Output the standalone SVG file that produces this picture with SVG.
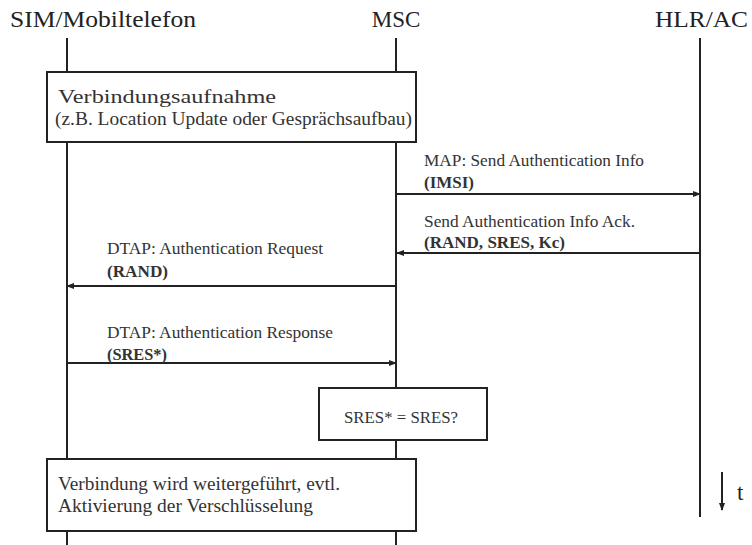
<svg xmlns="http://www.w3.org/2000/svg" width="752" height="545" viewBox="0 0 752 545">
<defs>
<style>
.hdr{font-family:"Liberation Serif","Times New Roman",serif;font-size:23px;fill:#222}
.lbl{font-family:"Liberation Serif","Times New Roman",serif;font-size:16px;fill:#333}
.b{font-weight:bold}
.box{font-family:"Liberation Serif","Times New Roman",serif;font-size:18px;fill:#333}
.life{stroke:#222;stroke-width:2;fill:none}
.msg{stroke:#222;stroke-width:2;fill:none}
.rect{fill:#fff;stroke:#222;stroke-width:2}
</style>
<marker id="ah" markerWidth="8" markerHeight="6" refX="7" refY="3" orient="auto" markerUnits="userSpaceOnUse">
<path d="M0,0 L8,3 L0,6 Z" fill="#222"/>
</marker>
</defs>
<rect width="752" height="545" fill="#fff"/>
<g id="sim">
<text class="hdr" x="10" y="27" textLength="186" lengthAdjust="spacingAndGlyphs">SIM/Mobiltelefon</text>
<line class="life" x1="67" y1="38" x2="67" y2="545"/>
</g>
<g id="msc">
<text class="hdr" x="396" y="27" text-anchor="middle">MSC</text>
<line class="life" x1="396" y1="38" x2="396" y2="545"/>
</g>
<g id="hlr">
<text class="hdr" x="655" y="27" textLength="93" lengthAdjust="spacingAndGlyphs">HLR/AC</text>
<line class="life" x1="700" y1="38" x2="700" y2="517"/>
</g>
<g id="connectors">
<line class="msg" x1="397" y1="194" x2="700" y2="194" marker-end="url(#ah)"/>
<line class="msg" x1="700" y1="253" x2="397" y2="253" marker-end="url(#ah)"/>
<line class="msg" x1="396" y1="286" x2="67" y2="286" marker-end="url(#ah)"/>
<line class="msg" x1="67" y1="363" x2="396" y2="363" marker-end="url(#ah)"/>
<text class="lbl" x="424" y="166" textLength="220" lengthAdjust="spacingAndGlyphs">MAP: Send Authentication Info</text>
<text class="lbl b" x="424" y="188" textLength="50" lengthAdjust="spacingAndGlyphs">(IMSI)</text>
<text class="lbl" x="424" y="227" textLength="211" lengthAdjust="spacingAndGlyphs">Send Authentication Info Ack.</text>
<text class="lbl b" x="424" y="248" textLength="141" lengthAdjust="spacingAndGlyphs">(RAND, SRES, Kc)</text>
<text class="lbl" x="107" y="254" textLength="216" lengthAdjust="spacingAndGlyphs">DTAP: Authentication Request</text>
<text class="lbl b" x="107" y="277" textLength="61" lengthAdjust="spacingAndGlyphs">(RAND)</text>
<text class="lbl" x="107" y="338" textLength="226" lengthAdjust="spacingAndGlyphs">DTAP: Authentication Response</text>
<text class="lbl b" x="107" y="360" textLength="60" lengthAdjust="spacingAndGlyphs">(SRES*)</text>
</g>
<g id="setup">
<rect class="rect" x="47" y="72" width="369" height="70"/>
<text class="box" x="58" y="103" textLength="218" lengthAdjust="spacingAndGlyphs">Verbindungsaufnahme</text>
<text class="box" x="55" y="125" textLength="357" lengthAdjust="spacingAndGlyphs">(z.B. Location Update oder Gesprächsaufbau)</text>
</g>
<g id="check">
<rect class="rect" x="319" y="388" width="168" height="52"/>
<text class="lbl" x="401" y="423" text-anchor="middle" textLength="114" lengthAdjust="spacingAndGlyphs">SRES* = SRES?</text>
</g>
<g id="continue">
<rect class="rect" x="47" y="459" width="369" height="72"/>
<text class="box" x="58" y="490" textLength="282" lengthAdjust="spacingAndGlyphs">Verbindung wird weitergeführt, evtl.</text>
<text class="box" x="58" y="512" textLength="255" lengthAdjust="spacingAndGlyphs">Aktivierung der Verschlüsselung</text>
</g>
<g id="time">
<line class="msg" x1="722" y1="472" x2="722" y2="510" marker-end="url(#ah)"/>
<text class="hdr" x="737" y="500" font-size="20">t</text>
</g>
</svg>
